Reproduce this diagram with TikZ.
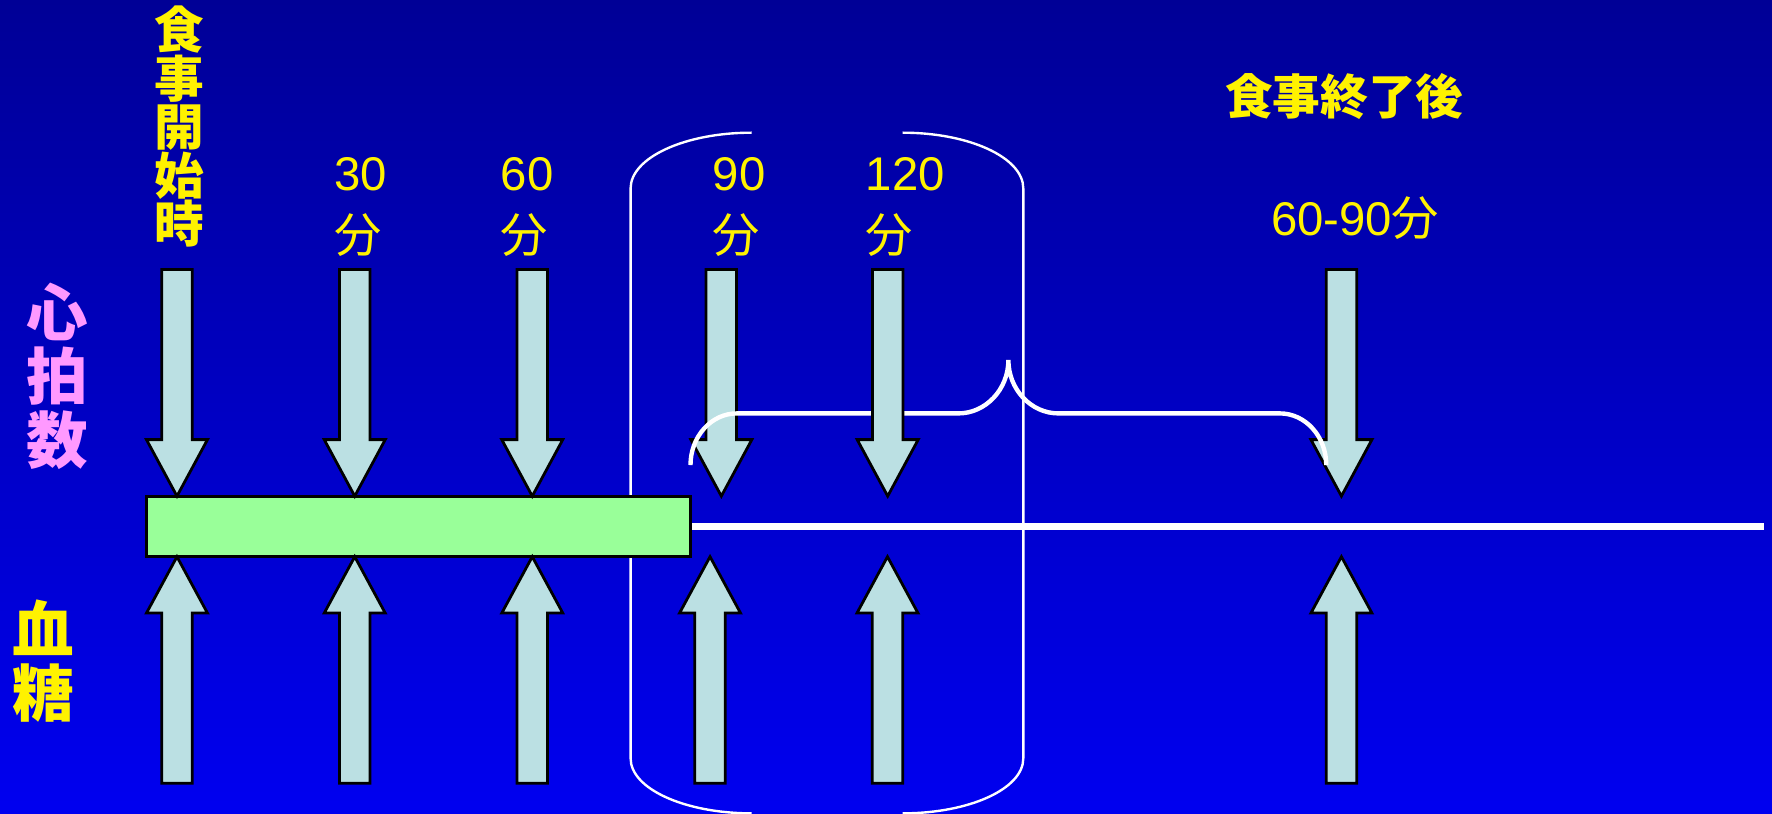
\documentclass[tikz,border=0pt]{standalone}
\usepackage{fontspec}
\setmainfont{Liberation Sans}
\newfontfamily\cjk{Noto Sans CJK JP}
\definecolor{bgtop}{RGB}{0,0,150}
\definecolor{bgbottom}{RGB}{0,0,240}
\definecolor{arrowfill}{RGB}{187,224,227}
\definecolor{barfill}{RGB}{153,255,153}
\definecolor{pulsepink}{RGB}{255,153,255}
\tikzset{
    arrowbox/.style={draw=black, line width=0.7pt, fill=arrowfill, line join=miter},
    mealbar/.style={draw=black, line width=0.7pt, fill=barfill, inner sep=0pt,
        minimum width=4.814cm, minimum height=0.533cm},
    timelabel/.style={text=yellow, anchor=north west, inner sep=0pt, align=left,
        font=\fontsize{11.9}{15.6}\selectfont},
    sidelabel/.style={inner sep=0pt, align=center,
        font=\cjk\bfseries\fontsize{15.5}{16.2}\selectfont}
}
% arrows pointing at the bar: #1 = centre
\newcommand{\downblock}[1]{%
    \draw[arrowbox] (#1-13.5,238.5) -- (#1+13.5,238.5) -- (#1+13.5,389) -- (#1+27,389)
        -- (#1,439) -- (#1-27,389) -- (#1-13.5,389) -- cycle;}
\newcommand{\upblock}[1]{%
    \draw[arrowbox] (#1-13.5,693) -- (#1+13.5,693) -- (#1+13.5,542.5) -- (#1+27,542.5)
        -- (#1,492.6) -- (#1-27,542.5) -- (#1-13.5,542.5) -- cycle;}
\begin{document}
\begin{tikzpicture}[x=0.01cm,y=-0.01cm]
    \useasboundingbox (0,0) rectangle (1568,720);
    \shade[top color=bgtop, bottom color=bgbottom] (0,0) rectangle (1568,720);

    % Bracket round 90 and 120 %
    \draw[white, line width=0.6pt] (665,117.4) .. controls (605.9,117.4) and (558,139.5) .. (558,166.7)
        -- (558,671) .. controls (558,698) and (605.9,719.7) .. (665,719.7);
    \draw[white, line width=0.6pt] (798.8,117.4) .. controls (857.9,117.4) and (905.5,139.5) .. (905.5,166.7)
        -- (905.5,671) .. controls (905.5,698) and (857.9,719.7) .. (798.8,719.7);

    % Meal bar and time line %
    \node[mealbar] (meal) at (370.5,466) {};
    \coordinate (lineend) at (1561,466);
    \draw[white, line width=1.6pt] (meal.east) -- (lineend);

    % Arrows %
    \foreach \x in {156.6,313.9,471,638.3,1187}
        \downblock{\x};
    \foreach \x in {156.6,313.9,471,628.3,785.3,1187}
        \upblock{\x};

    % Brace %
    \draw[white, line width=1.1pt] (611,411.5) .. controls (611,386.3) and (629.4,365.8) .. (652,365.8)
        -- (848,365.8) .. controls (872.3,365.8) and (892.3,344.5) .. (892.3,318.6)
        .. controls (892.3,344.5) and (912.3,365.8) .. (936.6,365.8)
        -- (1132.6,365.8) .. controls (1155.2,365.8) and (1173.6,386.3) .. (1173.6,411.5);
    \downblock{785.5}

    % Labels %
    \node[text=yellow, inner sep=0pt, align=center, font=\cjk\bfseries\fontsize{12.5}{12.2}\selectfont]
        (start) at (158.5,112) {食\\事\\開\\始\\時};
    \node[timelabel] (t30) at (295,139) {30\\{\cjk 分}};
    \node[timelabel] (t60) at (442.5,139) {60\\{\cjk 分}};
    \node[timelabel] (t90) at (630,138.6) {90\\{\cjk 分}};
    \node[timelabel] (t120) at (765.5,138.6) {120\\{\cjk 分}};
    \node[text=yellow, inner sep=0pt, font=\cjk\bfseries\fontsize{12}{12}\selectfont]
        (after) at (1189.5,85.6) {食事終了後};
    \node[text=yellow, inner sep=0pt, anchor=base west, font=\fontsize{11.9}{15.9}\selectfont]
        (tafter) at (1124,208) {60-90{\cjk 分}};
    \node[sidelabel, text=pulsepink] (pulse) at (51,333) {心\\拍\\数};
    \node[sidelabel, text=yellow] (sugar) at (38,585) {血\\糖};
\end{tikzpicture}
\end{document}
